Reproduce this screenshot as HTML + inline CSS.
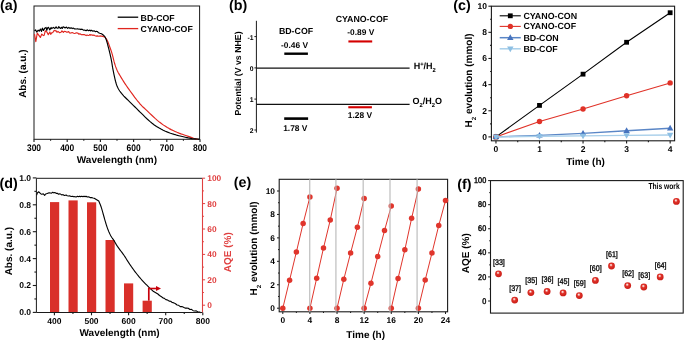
<!DOCTYPE html>
<html><head><meta charset="utf-8"><style>
html,body{margin:0;padding:0;background:#fff;}
svg{display:block;will-change:transform;}
text{font-family:"Liberation Sans",sans-serif;text-rendering:geometricPrecision;}
</style></head><body>
<svg width="685" height="340" viewBox="0 0 685 340" font-family="Liberation Sans, sans-serif">
<rect width="685" height="340" fill="#fff"/>
<text x="0.10" y="10.00" font-size="14.3" font-weight="bold" text-anchor="start" fill="#000" >(a)</text>
<rect x="34.0" y="6.0" width="165.6" height="133.3" fill="none" stroke="#1a1a1a" stroke-width="1"/>
<line x1="34.00" y1="139.30" x2="34.00" y2="142.00" stroke="#1a1a1a" stroke-width="1.1" />
<text transform="translate(34.00,150.9) scale(0.89,1)" font-size="9.5" font-weight="bold" text-anchor="middle">300</text>
<line x1="50.60" y1="139.30" x2="50.60" y2="140.80" stroke="#1a1a1a" stroke-width="1.1" />
<line x1="67.20" y1="139.30" x2="67.20" y2="142.00" stroke="#1a1a1a" stroke-width="1.1" />
<text transform="translate(67.20,150.9) scale(0.89,1)" font-size="9.5" font-weight="bold" text-anchor="middle">400</text>
<line x1="83.80" y1="139.30" x2="83.80" y2="140.80" stroke="#1a1a1a" stroke-width="1.1" />
<line x1="100.40" y1="139.30" x2="100.40" y2="142.00" stroke="#1a1a1a" stroke-width="1.1" />
<text transform="translate(100.40,150.9) scale(0.89,1)" font-size="9.5" font-weight="bold" text-anchor="middle">500</text>
<line x1="117.00" y1="139.30" x2="117.00" y2="140.80" stroke="#1a1a1a" stroke-width="1.1" />
<line x1="133.60" y1="139.30" x2="133.60" y2="142.00" stroke="#1a1a1a" stroke-width="1.1" />
<text transform="translate(133.60,150.9) scale(0.89,1)" font-size="9.5" font-weight="bold" text-anchor="middle">600</text>
<line x1="150.20" y1="139.30" x2="150.20" y2="140.80" stroke="#1a1a1a" stroke-width="1.1" />
<line x1="166.80" y1="139.30" x2="166.80" y2="142.00" stroke="#1a1a1a" stroke-width="1.1" />
<text transform="translate(166.80,150.9) scale(0.89,1)" font-size="9.5" font-weight="bold" text-anchor="middle">700</text>
<line x1="183.40" y1="139.30" x2="183.40" y2="140.80" stroke="#1a1a1a" stroke-width="1.1" />
<line x1="200.00" y1="139.30" x2="200.00" y2="142.00" stroke="#1a1a1a" stroke-width="1.1" />
<text transform="translate(200.00,150.9) scale(0.89,1)" font-size="9.5" font-weight="bold" text-anchor="middle">800</text>
<text x="116.90" y="163.10" font-size="10" font-weight="bold" text-anchor="middle" fill="#000" >Wavelength (nm)</text>
<text transform="translate(25.80,73.70) rotate(-90)" x="0" y="0" font-size="10" font-weight="bold" text-anchor="middle" fill="#000">Abs. (a.u.)</text>
<line x1="117.70" y1="17.20" x2="138.20" y2="17.20" stroke="#000" stroke-width="1.3" />
<line x1="117.70" y1="28.60" x2="138.20" y2="28.60" stroke="#e0261f" stroke-width="1.3" />
<text x="140.60" y="20.80" font-size="8.75" font-weight="bold" text-anchor="start" fill="#000" >BD-COF</text>
<text x="140.60" y="32.20" font-size="8.75" font-weight="bold" text-anchor="start" fill="#000" >CYANO-COF</text>
<polyline points="34.50,34.16 35.82,41.77 37.25,33.07 38.73,35.10 40.36,37.41 41.79,34.10 43.39,35.56 44.14,35.30 45.31,30.76 46.93,31.98 48.28,34.63 49.86,31.97 50.69,34.31 51.86,32.70 52.82,32.57 54.06,30.56 55.33,30.85 56.06,30.68 56.99,32.31 57.98,31.37 59.58,32.69 61.03,32.19 61.91,30.83 63.39,32.38 64.25,31.34 65.56,31.51 66.40,32.17 67.12,32.19 68.68,31.60 69.60,32.99 70.53,33.06 72.19,32.59 73.75,33.26 74.75,33.49 76.39,32.77 77.63,32.99 79.00,34.25 79.91,33.72 81.54,34.79 82.92,34.51 84.57,34.64 86.15,35.56 87.15,35.01 88.22,35.52 89.10,35.28 89.96,34.54 90.74,35.28 91.75,34.80 93.05,35.47 93.77,35.00 95.14,35.82 96.19,36.12 97.21,35.84 98.71,36.23 99.89,35.94 102.60,36.40 102.93,36.48 103.39,36.57 103.92,36.71 104.48,36.94 105.00,37.30 105.48,37.80 105.96,38.40 106.45,39.10 106.93,39.90 107.40,40.80 107.86,41.81 108.32,42.93 108.78,44.14 109.24,45.40 109.70,46.70 110.17,48.00 110.64,49.31 111.12,50.69 111.61,52.18 112.10,53.80 112.61,55.66 113.12,57.73 113.64,59.87 114.17,61.94 114.70,63.80 115.22,65.42 115.73,66.89 116.26,68.26 116.81,69.58 117.40,70.90 118.03,72.18 118.70,73.41 119.40,74.61 120.13,75.82 120.90,77.10 121.69,78.42 122.51,79.76 123.37,81.13 124.29,82.57 125.30,84.10 126.44,85.77 127.69,87.57 129.00,89.42 130.29,91.22 131.50,92.90 132.62,94.44 133.68,95.91 134.72,97.31 135.75,98.66 136.80,100.00 137.90,101.36 139.04,102.72 140.15,104.02 141.19,105.20 142.10,106.20 142.68,106.80 142.97,107.06 143.26,107.27 143.84,107.75 145.00,108.80 146.95,110.65 149.48,113.09 152.30,115.79 155.11,118.41 157.60,120.60 159.73,122.33 161.69,123.81 163.56,125.13 165.41,126.33 167.30,127.50 169.24,128.62 171.18,129.63 173.12,130.57 175.06,131.46 177.00,132.30 178.98,133.10 181.01,133.85 183.02,134.54 184.94,135.19 186.70,135.80 188.30,136.37 189.80,136.90 191.18,137.39 192.44,137.82 193.60,138.20 194.66,138.52 195.64,138.79 196.49,139.00 197.19,139.17 197.70,139.30" fill="none" stroke="#e0261f" stroke-width="1.15" stroke-linejoin="round" />
<polyline points="34.50,30.83 35.56,29.79 36.71,32.03 38.18,30.23 39.25,31.15 40.36,29.01 41.54,31.38 42.36,28.17 43.47,30.37 44.68,28.34 46.04,27.37 46.79,30.42 47.71,27.75 48.45,27.32 49.82,29.86 51.09,27.43 51.79,28.60 53.32,27.34 54.83,28.54 56.06,26.82 57.26,28.29 58.06,28.28 58.73,26.65 59.86,27.93 60.57,28.45 61.40,27.31 62.27,28.51 62.96,26.85 64.03,27.15 65.07,27.97 66.48,27.07 67.59,28.39 68.82,27.45 69.92,28.39 71.16,27.80 72.22,28.60 73.13,27.97 74.66,28.89 76.20,29.02 77.60,28.75 78.88,29.26 79.82,29.04 80.68,29.60 81.60,29.15 82.32,29.37 83.65,30.29 84.66,30.03 86.07,30.69 87.07,29.86 88.57,30.70 89.98,30.11 90.64,30.91 91.48,30.34 92.94,31.26 94.02,30.78 95.54,31.73 96.55,31.27 97.27,31.49 98.49,32.69 99.83,33.25 101.50,33.80 101.91,34.09 102.50,34.50 103.18,34.98 103.84,35.53 104.40,36.10 104.83,36.68 105.20,37.30 105.54,37.97 105.86,38.73 106.20,39.60 106.54,40.61 106.88,41.73 107.22,42.94 107.56,44.20 107.90,45.50 108.25,46.83 108.61,48.20 108.98,49.62 109.34,51.09 109.70,52.60 110.07,54.17 110.44,55.80 110.81,57.46 111.17,59.14 111.50,60.80 111.78,62.39 112.03,63.92 112.27,65.48 112.54,67.18 112.90,69.10 113.36,71.40 113.89,74.02 114.46,76.73 115.05,79.30 115.60,81.50 116.10,83.26 116.56,84.73 117.04,86.02 117.57,87.24 118.20,88.50 118.92,89.78 119.70,90.99 120.56,92.19 121.52,93.42 122.60,94.70 123.86,96.08 125.29,97.52 126.80,98.99 128.29,100.43 129.70,101.80 131.01,103.10 132.29,104.35 133.53,105.57 134.73,106.75 135.90,107.90 136.93,108.93 137.82,109.85 138.72,110.77 139.80,111.85 141.20,113.20 143.02,114.96 145.15,117.05 147.46,119.26 149.82,121.41 152.10,123.30 154.31,124.93 156.53,126.42 158.76,127.79 160.98,129.04 163.20,130.20 165.40,131.24 167.60,132.14 169.80,132.95 172.00,133.69 174.20,134.40 176.48,135.07 178.83,135.69 181.16,136.25 183.35,136.75 185.30,137.20 186.94,137.58 188.34,137.90 189.61,138.16 190.86,138.39 192.20,138.60 193.75,138.78 195.44,138.93 197.09,139.04 198.50,139.13 199.50,139.20" fill="none" stroke="#000" stroke-width="1.15" stroke-linejoin="round" />
<text x="229.00" y="10.00" font-size="14.3" font-weight="bold" text-anchor="start" fill="#000" >(b)</text>
<line x1="256.40" y1="20.80" x2="256.40" y2="132.60" stroke="#1a1a1a" stroke-width="1" />
<line x1="254.40" y1="36.60" x2="256.40" y2="36.60" stroke="#1a1a1a" stroke-width="1" />
<text x="253.60" y="39.90" font-size="6.8" font-weight="bold" text-anchor="end" fill="#000" >-1</text>
<line x1="254.40" y1="67.90" x2="256.40" y2="67.90" stroke="#1a1a1a" stroke-width="1" />
<text x="253.60" y="71.20" font-size="6.8" font-weight="bold" text-anchor="end" fill="#000" >0</text>
<line x1="254.40" y1="99.10" x2="256.40" y2="99.10" stroke="#1a1a1a" stroke-width="1" />
<text x="253.60" y="102.40" font-size="6.8" font-weight="bold" text-anchor="end" fill="#000" >1</text>
<line x1="254.40" y1="130.00" x2="256.40" y2="130.00" stroke="#1a1a1a" stroke-width="1" />
<text x="253.60" y="133.30" font-size="6.8" font-weight="bold" text-anchor="end" fill="#000" >2</text>
<line x1="256.40" y1="68.20" x2="409.60" y2="68.20" stroke="#111" stroke-width="1.3" />
<line x1="256.40" y1="104.40" x2="409.60" y2="104.40" stroke="#111" stroke-width="1.3" />
<text transform="translate(241.00,73.50) rotate(-90)" x="0" y="0" font-size="8.75" font-weight="bold" text-anchor="middle" fill="#000">Potential (V vs NHE)</text>
<rect x="284.30" y="52.50" width="23.60" height="2.40" fill="#000"/>
<rect x="284.20" y="117.30" width="23.90" height="2.60" fill="#000"/>
<rect x="348.40" y="40.40" width="23.80" height="2.10" fill="#d40000"/>
<rect x="348.30" y="106.20" width="23.60" height="2.10" fill="#d40000"/>
<text x="296.00" y="33.80" font-size="8.8" font-weight="bold" text-anchor="middle" fill="#000" >BD-COF</text>
<text x="294.50" y="47.50" font-size="8.4" font-weight="bold" text-anchor="middle" fill="#000" >-0.46 V</text>
<text x="361.90" y="21.50" font-size="8.8" font-weight="bold" text-anchor="middle" fill="#000" >CYANO-COF</text>
<text x="360.80" y="35.00" font-size="8.4" font-weight="bold" text-anchor="middle" fill="#000" >-0.89 V</text>
<text x="295.30" y="130.50" font-size="8.4" font-weight="bold" text-anchor="middle" fill="#000" >1.78 V</text>
<text x="359.90" y="118.40" font-size="8.4" font-weight="bold" text-anchor="middle" fill="#000" >1.28 V</text>
<text x="413.70" y="69.40" font-size="9.0" font-weight="bold" text-anchor="start" fill="#000" >H<tspan font-size="5.8" dy="-3.2">+</tspan><tspan dy="3.2">/H</tspan><tspan font-size="5.8" dy="2.2">2</tspan></text>
<text x="412.50" y="104.30" font-size="9.0" font-weight="bold" text-anchor="start" fill="#000" >O<tspan font-size="5.8" dy="2.2">2</tspan><tspan dy="-2.2">/H</tspan><tspan font-size="5.8" dy="2.2">2</tspan><tspan dy="-2.2">O</tspan></text>
<text x="453.20" y="10.10" font-size="14.3" font-weight="bold" text-anchor="start" fill="#000" >(c)</text>
<rect x="491.4" y="6.2" width="183.20000000000005" height="134.60000000000002" fill="none" stroke="#1a1a1a" stroke-width="1.1"/>
<line x1="488.40" y1="136.90" x2="491.40" y2="136.90" stroke="#1a1a1a" stroke-width="1.1" />
<text x="487.00" y="139.70" font-size="8.5" font-weight="bold" text-anchor="end" fill="#000" >0</text>
<line x1="490.10" y1="123.83" x2="491.40" y2="123.83" stroke="#1a1a1a" stroke-width="1.1" />
<line x1="488.40" y1="110.76" x2="491.40" y2="110.76" stroke="#1a1a1a" stroke-width="1.1" />
<text x="487.00" y="113.56" font-size="8.5" font-weight="bold" text-anchor="end" fill="#000" >2</text>
<line x1="490.10" y1="97.69" x2="491.40" y2="97.69" stroke="#1a1a1a" stroke-width="1.1" />
<line x1="488.40" y1="84.62" x2="491.40" y2="84.62" stroke="#1a1a1a" stroke-width="1.1" />
<text x="487.00" y="87.42" font-size="8.5" font-weight="bold" text-anchor="end" fill="#000" >4</text>
<line x1="490.10" y1="71.55" x2="491.40" y2="71.55" stroke="#1a1a1a" stroke-width="1.1" />
<line x1="488.40" y1="58.48" x2="491.40" y2="58.48" stroke="#1a1a1a" stroke-width="1.1" />
<text x="487.00" y="61.28" font-size="8.5" font-weight="bold" text-anchor="end" fill="#000" >6</text>
<line x1="490.10" y1="45.41" x2="491.40" y2="45.41" stroke="#1a1a1a" stroke-width="1.1" />
<line x1="488.40" y1="32.34" x2="491.40" y2="32.34" stroke="#1a1a1a" stroke-width="1.1" />
<text x="487.00" y="35.14" font-size="8.5" font-weight="bold" text-anchor="end" fill="#000" >8</text>
<line x1="490.10" y1="19.27" x2="491.40" y2="19.27" stroke="#1a1a1a" stroke-width="1.1" />
<line x1="488.40" y1="6.20" x2="491.40" y2="6.20" stroke="#1a1a1a" stroke-width="1.1" />
<text x="487.00" y="9.00" font-size="8.5" font-weight="bold" text-anchor="end" fill="#000" >10</text>
<line x1="495.95" y1="140.80" x2="495.95" y2="143.60" stroke="#1a1a1a" stroke-width="1.1" />
<text x="495.95" y="151.70" font-size="8.5" font-weight="bold" text-anchor="middle" fill="#000" >0</text>
<line x1="517.73" y1="140.80" x2="517.73" y2="142.20" stroke="#1a1a1a" stroke-width="1.1" />
<line x1="539.50" y1="140.80" x2="539.50" y2="143.60" stroke="#1a1a1a" stroke-width="1.1" />
<text x="539.50" y="151.70" font-size="8.5" font-weight="bold" text-anchor="middle" fill="#000" >1</text>
<line x1="561.27" y1="140.80" x2="561.27" y2="142.20" stroke="#1a1a1a" stroke-width="1.1" />
<line x1="583.05" y1="140.80" x2="583.05" y2="143.60" stroke="#1a1a1a" stroke-width="1.1" />
<text x="583.05" y="151.70" font-size="8.5" font-weight="bold" text-anchor="middle" fill="#000" >2</text>
<line x1="604.83" y1="140.80" x2="604.83" y2="142.20" stroke="#1a1a1a" stroke-width="1.1" />
<line x1="626.60" y1="140.80" x2="626.60" y2="143.60" stroke="#1a1a1a" stroke-width="1.1" />
<text x="626.60" y="151.70" font-size="8.5" font-weight="bold" text-anchor="middle" fill="#000" >3</text>
<line x1="648.38" y1="140.80" x2="648.38" y2="142.20" stroke="#1a1a1a" stroke-width="1.1" />
<line x1="670.15" y1="140.80" x2="670.15" y2="143.60" stroke="#1a1a1a" stroke-width="1.1" />
<text x="670.15" y="151.70" font-size="8.5" font-weight="bold" text-anchor="middle" fill="#000" >4</text>
<text x="585.50" y="164.80" font-size="10" font-weight="bold" text-anchor="middle" fill="#000" >Time (h)</text>
<text transform="translate(472.0,80.4) rotate(-90)" font-size="10" font-weight="bold" text-anchor="middle">H<tspan font-size="6.1" dy="3.5">2</tspan><tspan dy="-3.5"> evolution (mmol)</tspan></text>
<polyline points="495.95,136.90 539.50,105.40 583.05,74.16 626.60,42.27 670.15,12.73" fill="none" stroke="#000" stroke-width="1.1" stroke-linejoin="round" />
<rect x="493.55" y="134.50" width="4.80" height="4.80" fill="#000"/>
<rect x="537.10" y="103.00" width="4.80" height="4.80" fill="#000"/>
<rect x="580.65" y="71.76" width="4.80" height="4.80" fill="#000"/>
<rect x="624.20" y="39.87" width="4.80" height="4.80" fill="#000"/>
<rect x="667.75" y="10.33" width="4.80" height="4.80" fill="#000"/>
<polyline points="495.95,136.90 539.50,121.48 583.05,108.93 626.60,95.73 670.15,82.92" fill="none" stroke="#e03228" stroke-width="1.1" stroke-linejoin="round" />
<circle cx="495.95" cy="136.90" r="2.70" fill="#e03228"/>
<circle cx="539.50" cy="121.48" r="2.70" fill="#e03228"/>
<circle cx="583.05" cy="108.93" r="2.70" fill="#e03228"/>
<circle cx="626.60" cy="95.73" r="2.70" fill="#e03228"/>
<circle cx="670.15" cy="82.92" r="2.70" fill="#e03228"/>
<polyline points="495.95,136.90 539.50,135.33 583.05,133.37 626.60,130.76 670.15,128.27" fill="none" stroke="#5a86c6" stroke-width="1.4" stroke-linejoin="round" />
<polygon points="492.75,139.10 499.15,139.10 495.95,133.50" fill="#4673be"/>
<polygon points="536.30,137.53 542.70,137.53 539.50,131.93" fill="#4673be"/>
<polygon points="579.85,135.57 586.25,135.57 583.05,129.97" fill="#4673be"/>
<polygon points="623.40,132.96 629.80,132.96 626.60,127.36" fill="#4673be"/>
<polygon points="666.95,130.47 673.35,130.47 670.15,124.87" fill="#4673be"/>
<polyline points="495.95,136.90 539.50,136.25 583.05,135.85 626.60,135.33 670.15,135.07" fill="none" stroke="#a8cfea" stroke-width="1.4" stroke-linejoin="round" />
<polygon points="492.75,134.70 499.15,134.70 495.95,140.30" fill="#8dbfe3"/>
<polygon points="536.30,134.05 542.70,134.05 539.50,139.65" fill="#8dbfe3"/>
<polygon points="579.85,133.65 586.25,133.65 583.05,139.25" fill="#8dbfe3"/>
<polygon points="623.40,133.13 629.80,133.13 626.60,138.73" fill="#8dbfe3"/>
<polygon points="666.95,132.87 673.35,132.87 670.15,138.47" fill="#8dbfe3"/>
<line x1="499.70" y1="15.80" x2="520.80" y2="15.80" stroke="#000" stroke-width="1.1" />
<rect x="507.90" y="13.40" width="4.80" height="4.80" fill="#000"/>
<text x="523.40" y="18.80" font-size="8.85" font-weight="bold" text-anchor="start" fill="#000" >CYANO-CON</text>
<line x1="499.70" y1="26.40" x2="520.80" y2="26.40" stroke="#e03228" stroke-width="1.1" />
<circle cx="510.30" cy="26.40" r="2.70" fill="#e03228"/>
<text x="523.40" y="29.40" font-size="8.85" font-weight="bold" text-anchor="start" fill="#000" >CYANO-COF</text>
<line x1="499.70" y1="37.70" x2="520.80" y2="37.70" stroke="#5a86c6" stroke-width="1.5" />
<polygon points="507.10,39.90 513.50,39.90 510.30,34.30" fill="#4673be"/>
<text x="523.40" y="40.70" font-size="8.85" font-weight="bold" text-anchor="start" fill="#000" >BD-CON</text>
<line x1="499.70" y1="48.80" x2="520.80" y2="48.80" stroke="#a8cfea" stroke-width="1.5" />
<polygon points="507.10,46.60 513.50,46.60 510.30,52.20" fill="#8dbfe3"/>
<text x="523.40" y="51.80" font-size="8.85" font-weight="bold" text-anchor="start" fill="#000" >BD-COF</text>
<text x="-0.60" y="187.50" font-size="14.3" font-weight="bold" text-anchor="start" fill="#000" >(d)</text>
<rect x="50.00" y="202.10" width="9.20" height="110.40" fill="#d9302a"/>
<rect x="68.50" y="200.40" width="9.20" height="112.10" fill="#d9302a"/>
<rect x="87.00" y="202.30" width="9.20" height="110.20" fill="#d9302a"/>
<rect x="105.50" y="240.00" width="9.20" height="72.50" fill="#d9302a"/>
<rect x="124.00" y="283.40" width="9.20" height="29.10" fill="#d9302a"/>
<rect x="142.60" y="300.70" width="9.20" height="11.80" fill="#d9302a"/>
<polyline points="36.50,195.19 37.37,192.94 38.51,191.81 39.49,192.52 40.69,193.71 41.90,194.36 42.61,194.07 43.29,193.87 44.68,195.44 45.57,194.05 46.44,193.81 47.97,193.17 49.05,192.74 50.44,192.93 51.52,193.19 52.74,192.21 53.54,192.83 54.76,192.59 56.18,193.35 57.30,193.31 58.61,194.27 59.86,193.71 60.58,194.11 61.91,194.96 63.09,194.58 64.01,195.37 64.70,195.45 66.12,195.07 67.20,195.77 68.49,196.04 69.92,195.90 71.21,196.50 72.68,196.19 73.69,196.77 75.05,196.66 76.11,197.01 77.59,196.37 79.02,196.68 79.77,196.13 80.55,196.72 81.40,196.30 82.91,196.63 83.95,196.17 85.16,196.61 86.09,196.34 87.19,197.00 88.19,196.81 89.16,197.05 90.34,197.65 91.51,197.54 92.97,198.04 94.23,198.27 98.75,201.00 99.09,201.82 99.57,202.95 100.13,204.30 100.71,205.79 101.25,207.30 101.75,208.89 102.25,210.61 102.75,212.41 103.25,214.23 103.75,216.00 104.25,217.76 104.76,219.56 105.27,221.33 105.77,223.03 106.25,224.60 106.71,226.03 107.16,227.34 107.60,228.58 108.04,229.75 108.50,230.90 108.96,232.01 109.43,233.06 109.90,234.08 110.39,235.05 110.90,236.00 111.45,236.90 112.02,237.74 112.61,238.56 113.21,239.40 113.80,240.30 114.39,241.27 114.97,242.29 115.56,243.34 116.17,244.38 116.80,245.40 117.47,246.40 118.16,247.38 118.88,248.36 119.59,249.34 120.30,250.30 121.01,251.25 121.72,252.19 122.44,253.13 123.13,254.06 123.80,255.00 124.43,255.94 125.04,256.89 125.63,257.83 126.21,258.77 126.80,259.70 127.36,260.58 127.88,261.41 128.42,262.26 129.01,263.17 129.70,264.20 130.52,265.40 131.45,266.72 132.43,268.10 133.43,269.48 134.40,270.80 135.34,272.05 136.28,273.28 137.22,274.48 138.16,275.65 139.10,276.80 140.04,277.91 140.98,279.00 141.92,280.06 142.86,281.09 143.80,282.10 144.74,283.08 145.68,284.03 146.62,284.96 147.56,285.88 148.50,286.80 149.52,287.78 150.61,288.83 151.66,289.83 152.56,290.69 153.20,291.30 157.90,293.98 159.50,295.51 161.10,296.41 162.70,297.77 164.30,298.37 165.90,299.62 167.50,300.02 169.10,301.11 170.70,301.23 172.30,302.56 173.90,302.86 175.50,303.73 177.10,305.03 178.70,305.32 180.30,306.61 181.90,306.57 183.50,307.20 185.10,308.11 186.70,307.96 188.30,308.21 189.90,309.51 191.50,309.38 193.10,310.70 194.70,310.94 196.30,310.87 197.90,311.93 199.50,311.94 201.10,312.81" fill="none" stroke="#000" stroke-width="1.1" stroke-linejoin="round" />
<line x1="148.80" y1="300.70" x2="148.80" y2="287.70" stroke="#c8000a" stroke-width="1.7" />
<line x1="148.00" y1="288.50" x2="157.00" y2="288.50" stroke="#c8000a" stroke-width="1.6" />
<polygon points="156.0,286.1 161.0,288.5 156.0,290.9" fill="#c8000a"/>
<line x1="36.40" y1="178.30" x2="202.50" y2="178.30" stroke="#1a1a1a" stroke-width="1" />
<line x1="36.40" y1="178.30" x2="36.40" y2="312.50" stroke="#1a1a1a" stroke-width="1" />
<line x1="36.40" y1="312.50" x2="202.50" y2="312.50" stroke="#1a1a1a" stroke-width="1" />
<line x1="202.50" y1="178.30" x2="202.50" y2="312.50" stroke="#e04040" stroke-width="1.1" />
<line x1="32.80" y1="312.40" x2="36.40" y2="312.40" stroke="#1a1a1a" stroke-width="1.1" />
<text x="31.00" y="315.30" font-size="8.5" font-weight="bold" text-anchor="end" fill="#000" >0.0</text>
<line x1="34.40" y1="298.95" x2="36.40" y2="298.95" stroke="#1a1a1a" stroke-width="1.1" />
<line x1="32.80" y1="285.50" x2="36.40" y2="285.50" stroke="#1a1a1a" stroke-width="1.1" />
<text x="31.00" y="288.40" font-size="8.5" font-weight="bold" text-anchor="end" fill="#000" >0.2</text>
<line x1="34.40" y1="272.05" x2="36.40" y2="272.05" stroke="#1a1a1a" stroke-width="1.1" />
<line x1="32.80" y1="258.60" x2="36.40" y2="258.60" stroke="#1a1a1a" stroke-width="1.1" />
<text x="31.00" y="261.50" font-size="8.5" font-weight="bold" text-anchor="end" fill="#000" >0.4</text>
<line x1="34.40" y1="245.15" x2="36.40" y2="245.15" stroke="#1a1a1a" stroke-width="1.1" />
<line x1="32.80" y1="231.70" x2="36.40" y2="231.70" stroke="#1a1a1a" stroke-width="1.1" />
<text x="31.00" y="234.60" font-size="8.5" font-weight="bold" text-anchor="end" fill="#000" >0.6</text>
<line x1="34.40" y1="218.25" x2="36.40" y2="218.25" stroke="#1a1a1a" stroke-width="1.1" />
<line x1="32.80" y1="204.80" x2="36.40" y2="204.80" stroke="#1a1a1a" stroke-width="1.1" />
<text x="31.00" y="207.70" font-size="8.5" font-weight="bold" text-anchor="end" fill="#000" >0.8</text>
<line x1="34.40" y1="191.35" x2="36.40" y2="191.35" stroke="#1a1a1a" stroke-width="1.1" />
<line x1="32.80" y1="177.90" x2="36.40" y2="177.90" stroke="#1a1a1a" stroke-width="1.1" />
<text x="31.00" y="180.80" font-size="8.5" font-weight="bold" text-anchor="end" fill="#000" >1.0</text>
<line x1="54.40" y1="312.50" x2="54.40" y2="315.30" stroke="#1a1a1a" stroke-width="1.1" />
<text x="54.40" y="323.80" font-size="8.5" font-weight="bold" text-anchor="middle" fill="#000" >400</text>
<line x1="72.95" y1="312.50" x2="72.95" y2="314.00" stroke="#1a1a1a" stroke-width="1.1" />
<line x1="91.50" y1="312.50" x2="91.50" y2="315.30" stroke="#1a1a1a" stroke-width="1.1" />
<text x="91.50" y="323.80" font-size="8.5" font-weight="bold" text-anchor="middle" fill="#000" >500</text>
<line x1="110.05" y1="312.50" x2="110.05" y2="314.00" stroke="#1a1a1a" stroke-width="1.1" />
<line x1="128.60" y1="312.50" x2="128.60" y2="315.30" stroke="#1a1a1a" stroke-width="1.1" />
<text x="128.60" y="323.80" font-size="8.5" font-weight="bold" text-anchor="middle" fill="#000" >600</text>
<line x1="147.15" y1="312.50" x2="147.15" y2="314.00" stroke="#1a1a1a" stroke-width="1.1" />
<line x1="165.70" y1="312.50" x2="165.70" y2="315.30" stroke="#1a1a1a" stroke-width="1.1" />
<text x="165.70" y="323.80" font-size="8.5" font-weight="bold" text-anchor="middle" fill="#000" >700</text>
<line x1="184.25" y1="312.50" x2="184.25" y2="314.00" stroke="#1a1a1a" stroke-width="1.1" />
<line x1="202.80" y1="312.50" x2="202.80" y2="315.30" stroke="#1a1a1a" stroke-width="1.1" />
<text x="202.80" y="323.80" font-size="8.5" font-weight="bold" text-anchor="middle" fill="#000" >800</text>
<text x="119.60" y="335.50" font-size="10" font-weight="bold" text-anchor="middle" fill="#000" >Wavelength (nm)</text>
<text transform="translate(12.00,251.20) rotate(-90)" x="0" y="0" font-size="10" font-weight="bold" text-anchor="middle" fill="#000">Abs. (a.u.)</text>
<line x1="202.50" y1="305.20" x2="205.10" y2="305.20" stroke="#e04040" stroke-width="1" />
<text x="207.30" y="308.20" font-size="8.4" font-weight="bold" text-anchor="start" fill="#e04040" >0</text>
<line x1="202.50" y1="292.50" x2="203.90" y2="292.50" stroke="#e04040" stroke-width="1" />
<line x1="202.50" y1="279.80" x2="205.10" y2="279.80" stroke="#e04040" stroke-width="1" />
<text x="207.30" y="282.80" font-size="8.4" font-weight="bold" text-anchor="start" fill="#e04040" >20</text>
<line x1="202.50" y1="267.10" x2="203.90" y2="267.10" stroke="#e04040" stroke-width="1" />
<line x1="202.50" y1="254.40" x2="205.10" y2="254.40" stroke="#e04040" stroke-width="1" />
<text x="207.30" y="257.40" font-size="8.4" font-weight="bold" text-anchor="start" fill="#e04040" >40</text>
<line x1="202.50" y1="241.70" x2="203.90" y2="241.70" stroke="#e04040" stroke-width="1" />
<line x1="202.50" y1="229.00" x2="205.10" y2="229.00" stroke="#e04040" stroke-width="1" />
<text x="207.30" y="232.00" font-size="8.4" font-weight="bold" text-anchor="start" fill="#e04040" >60</text>
<line x1="202.50" y1="216.30" x2="203.90" y2="216.30" stroke="#e04040" stroke-width="1" />
<line x1="202.50" y1="203.60" x2="205.10" y2="203.60" stroke="#e04040" stroke-width="1" />
<text x="207.30" y="206.60" font-size="8.4" font-weight="bold" text-anchor="start" fill="#e04040" >80</text>
<line x1="202.50" y1="190.90" x2="203.90" y2="190.90" stroke="#e04040" stroke-width="1" />
<line x1="202.50" y1="178.20" x2="205.10" y2="178.20" stroke="#e04040" stroke-width="1" />
<text x="207.30" y="181.20" font-size="8.4" font-weight="bold" text-anchor="start" fill="#e04040" >100</text>
<text transform="translate(231.30,252.20) rotate(-90)" x="0" y="0" font-size="10" font-weight="bold" text-anchor="middle" fill="#e04040">AQE (%)</text>
<text x="233.80" y="187.40" font-size="14.3" font-weight="bold" text-anchor="start" fill="#000" >(e)</text>
<rect x="279.2" y="179.3" width="168.40000000000003" height="132.5" fill="none" stroke="#1a1a1a" stroke-width="1.1"/>
<line x1="277.00" y1="308.20" x2="279.20" y2="308.20" stroke="#1a1a1a" stroke-width="1" />
<text x="275.00" y="311.20" font-size="8.4" font-weight="bold" text-anchor="end" fill="#000" >0</text>
<line x1="278.00" y1="296.48" x2="279.20" y2="296.48" stroke="#1a1a1a" stroke-width="1" />
<line x1="277.00" y1="284.76" x2="279.20" y2="284.76" stroke="#1a1a1a" stroke-width="1" />
<text x="275.00" y="287.76" font-size="8.4" font-weight="bold" text-anchor="end" fill="#000" >2</text>
<line x1="278.00" y1="273.04" x2="279.20" y2="273.04" stroke="#1a1a1a" stroke-width="1" />
<line x1="277.00" y1="261.32" x2="279.20" y2="261.32" stroke="#1a1a1a" stroke-width="1" />
<text x="275.00" y="264.32" font-size="8.4" font-weight="bold" text-anchor="end" fill="#000" >4</text>
<line x1="278.00" y1="249.60" x2="279.20" y2="249.60" stroke="#1a1a1a" stroke-width="1" />
<line x1="277.00" y1="237.88" x2="279.20" y2="237.88" stroke="#1a1a1a" stroke-width="1" />
<text x="275.00" y="240.88" font-size="8.4" font-weight="bold" text-anchor="end" fill="#000" >6</text>
<line x1="278.00" y1="226.16" x2="279.20" y2="226.16" stroke="#1a1a1a" stroke-width="1" />
<line x1="277.00" y1="214.44" x2="279.20" y2="214.44" stroke="#1a1a1a" stroke-width="1" />
<text x="275.00" y="217.44" font-size="8.4" font-weight="bold" text-anchor="end" fill="#000" >8</text>
<line x1="278.00" y1="202.72" x2="279.20" y2="202.72" stroke="#1a1a1a" stroke-width="1" />
<line x1="277.00" y1="191.00" x2="279.20" y2="191.00" stroke="#1a1a1a" stroke-width="1" />
<text x="275.00" y="194.00" font-size="8.4" font-weight="bold" text-anchor="end" fill="#000" >10</text>
<line x1="282.80" y1="311.80" x2="282.80" y2="314.00" stroke="#1a1a1a" stroke-width="1" />
<text x="282.80" y="323.40" font-size="8.4" font-weight="bold" text-anchor="middle" fill="#000" >0</text>
<line x1="296.36" y1="311.80" x2="296.36" y2="313.00" stroke="#1a1a1a" stroke-width="1" />
<line x1="309.92" y1="311.80" x2="309.92" y2="314.00" stroke="#1a1a1a" stroke-width="1" />
<text x="309.92" y="323.40" font-size="8.4" font-weight="bold" text-anchor="middle" fill="#000" >4</text>
<line x1="323.48" y1="311.80" x2="323.48" y2="313.00" stroke="#1a1a1a" stroke-width="1" />
<line x1="337.04" y1="311.80" x2="337.04" y2="314.00" stroke="#1a1a1a" stroke-width="1" />
<text x="337.04" y="323.40" font-size="8.4" font-weight="bold" text-anchor="middle" fill="#000" >8</text>
<line x1="350.60" y1="311.80" x2="350.60" y2="313.00" stroke="#1a1a1a" stroke-width="1" />
<line x1="364.16" y1="311.80" x2="364.16" y2="314.00" stroke="#1a1a1a" stroke-width="1" />
<text x="364.16" y="323.40" font-size="8.4" font-weight="bold" text-anchor="middle" fill="#000" >12</text>
<line x1="377.72" y1="311.80" x2="377.72" y2="313.00" stroke="#1a1a1a" stroke-width="1" />
<line x1="391.28" y1="311.80" x2="391.28" y2="314.00" stroke="#1a1a1a" stroke-width="1" />
<text x="391.28" y="323.40" font-size="8.4" font-weight="bold" text-anchor="middle" fill="#000" >16</text>
<line x1="404.84" y1="311.80" x2="404.84" y2="313.00" stroke="#1a1a1a" stroke-width="1" />
<line x1="418.40" y1="311.80" x2="418.40" y2="314.00" stroke="#1a1a1a" stroke-width="1" />
<text x="418.40" y="323.40" font-size="8.4" font-weight="bold" text-anchor="middle" fill="#000" >20</text>
<line x1="431.96" y1="311.80" x2="431.96" y2="313.00" stroke="#1a1a1a" stroke-width="1" />
<line x1="445.52" y1="311.80" x2="445.52" y2="314.00" stroke="#1a1a1a" stroke-width="1" />
<text x="445.52" y="323.40" font-size="8.4" font-weight="bold" text-anchor="middle" fill="#000" >24</text>
<text x="365.70" y="337.70" font-size="10" font-weight="bold" text-anchor="middle" fill="#000" >Time (h)</text>
<text transform="translate(257.0,248.4) rotate(-90)" font-size="10" font-weight="bold" text-anchor="middle">H<tspan font-size="6.1" dy="3.6">2</tspan><tspan dy="-3.6"> evolution (mmol)</tspan></text>
<polyline points="282.80,308.20 289.58,280.19 296.36,252.06 303.14,223.46 309.92,196.98" fill="none" stroke="#e0352c" stroke-width="1.0" stroke-linejoin="round" />
<polyline points="309.92,308.20 316.70,278.20 323.48,248.08 330.26,220.07 337.04,188.19" fill="none" stroke="#e0352c" stroke-width="1.0" stroke-linejoin="round" />
<polyline points="337.04,308.20 343.82,279.25 350.60,253.00 357.38,227.21 364.16,198.50" fill="none" stroke="#e0352c" stroke-width="1.0" stroke-linejoin="round" />
<polyline points="364.16,308.20 370.94,283.24 377.72,256.51 384.50,230.61 391.28,206.00" fill="none" stroke="#e0352c" stroke-width="1.0" stroke-linejoin="round" />
<polyline points="391.28,308.20 398.06,278.43 404.84,249.83 411.62,218.31 418.40,188.89" fill="none" stroke="#e0352c" stroke-width="1.0" stroke-linejoin="round" />
<polyline points="418.40,308.20 425.18,280.07 431.96,253.00 438.74,225.57 445.52,200.49" fill="none" stroke="#e0352c" stroke-width="1.0" stroke-linejoin="round" />
<circle cx="282.80" cy="308.20" r="2.75" fill="#e0352c"/>
<circle cx="289.58" cy="280.19" r="2.75" fill="#e0352c"/>
<circle cx="296.36" cy="252.06" r="2.75" fill="#e0352c"/>
<circle cx="303.14" cy="223.46" r="2.75" fill="#e0352c"/>
<circle cx="309.92" cy="196.98" r="2.75" fill="#e0352c"/>
<circle cx="309.92" cy="308.20" r="2.75" fill="#e0352c"/>
<circle cx="316.70" cy="278.20" r="2.75" fill="#e0352c"/>
<circle cx="323.48" cy="248.08" r="2.75" fill="#e0352c"/>
<circle cx="330.26" cy="220.07" r="2.75" fill="#e0352c"/>
<circle cx="337.04" cy="188.19" r="2.75" fill="#e0352c"/>
<circle cx="337.04" cy="308.20" r="2.75" fill="#e0352c"/>
<circle cx="343.82" cy="279.25" r="2.75" fill="#e0352c"/>
<circle cx="350.60" cy="253.00" r="2.75" fill="#e0352c"/>
<circle cx="357.38" cy="227.21" r="2.75" fill="#e0352c"/>
<circle cx="364.16" cy="198.50" r="2.75" fill="#e0352c"/>
<circle cx="364.16" cy="308.20" r="2.75" fill="#e0352c"/>
<circle cx="370.94" cy="283.24" r="2.75" fill="#e0352c"/>
<circle cx="377.72" cy="256.51" r="2.75" fill="#e0352c"/>
<circle cx="384.50" cy="230.61" r="2.75" fill="#e0352c"/>
<circle cx="391.28" cy="206.00" r="2.75" fill="#e0352c"/>
<circle cx="391.28" cy="308.20" r="2.75" fill="#e0352c"/>
<circle cx="398.06" cy="278.43" r="2.75" fill="#e0352c"/>
<circle cx="404.84" cy="249.83" r="2.75" fill="#e0352c"/>
<circle cx="411.62" cy="218.31" r="2.75" fill="#e0352c"/>
<circle cx="418.40" cy="188.89" r="2.75" fill="#e0352c"/>
<circle cx="418.40" cy="308.20" r="2.75" fill="#e0352c"/>
<circle cx="425.18" cy="280.07" r="2.75" fill="#e0352c"/>
<circle cx="431.96" cy="253.00" r="2.75" fill="#e0352c"/>
<circle cx="438.74" cy="225.57" r="2.75" fill="#e0352c"/>
<circle cx="445.52" cy="200.49" r="2.75" fill="#e0352c"/>
<line x1="309.70" y1="179.30" x2="309.70" y2="311.80" stroke="#bdbdbd" stroke-width="1.4" opacity="0.85"/>
<line x1="335.90" y1="179.30" x2="335.90" y2="311.80" stroke="#bdbdbd" stroke-width="1.4" opacity="0.85"/>
<line x1="363.20" y1="179.30" x2="363.20" y2="311.80" stroke="#bdbdbd" stroke-width="1.4" opacity="0.85"/>
<line x1="390.00" y1="179.30" x2="390.00" y2="311.80" stroke="#bdbdbd" stroke-width="1.4" opacity="0.85"/>
<line x1="417.10" y1="179.30" x2="417.10" y2="311.80" stroke="#bdbdbd" stroke-width="1.4" opacity="0.85"/>
<text x="457.20" y="188.60" font-size="14.3" font-weight="bold" text-anchor="start" fill="#000" >(f)</text>
<rect x="490.5" y="180.6" width="192.70000000000005" height="132.50000000000003" fill="none" stroke="#1a1a1a" stroke-width="1.1"/>
<line x1="488.10" y1="301.00" x2="490.50" y2="301.00" stroke="#1a1a1a" stroke-width="1" />
<text transform="translate(486.2,303.60) scale(0.89,1)" font-size="8.2" font-weight="normal" stroke="#000" stroke-width="0.4" text-anchor="end">0</text>
<line x1="489.20" y1="288.96" x2="490.50" y2="288.96" stroke="#1a1a1a" stroke-width="1" />
<line x1="488.10" y1="276.92" x2="490.50" y2="276.92" stroke="#1a1a1a" stroke-width="1" />
<text transform="translate(486.2,279.52) scale(0.89,1)" font-size="8.2" font-weight="normal" stroke="#000" stroke-width="0.4" text-anchor="end">20</text>
<line x1="489.20" y1="264.88" x2="490.50" y2="264.88" stroke="#1a1a1a" stroke-width="1" />
<line x1="488.10" y1="252.84" x2="490.50" y2="252.84" stroke="#1a1a1a" stroke-width="1" />
<text transform="translate(486.2,255.44) scale(0.89,1)" font-size="8.2" font-weight="normal" stroke="#000" stroke-width="0.4" text-anchor="end">40</text>
<line x1="489.20" y1="240.80" x2="490.50" y2="240.80" stroke="#1a1a1a" stroke-width="1" />
<line x1="488.10" y1="228.76" x2="490.50" y2="228.76" stroke="#1a1a1a" stroke-width="1" />
<text transform="translate(486.2,231.36) scale(0.89,1)" font-size="8.2" font-weight="normal" stroke="#000" stroke-width="0.4" text-anchor="end">60</text>
<line x1="489.20" y1="216.72" x2="490.50" y2="216.72" stroke="#1a1a1a" stroke-width="1" />
<line x1="488.10" y1="204.68" x2="490.50" y2="204.68" stroke="#1a1a1a" stroke-width="1" />
<text transform="translate(486.2,207.28) scale(0.89,1)" font-size="8.2" font-weight="normal" stroke="#000" stroke-width="0.4" text-anchor="end">80</text>
<line x1="489.20" y1="192.64" x2="490.50" y2="192.64" stroke="#1a1a1a" stroke-width="1" />
<line x1="488.10" y1="180.60" x2="490.50" y2="180.60" stroke="#1a1a1a" stroke-width="1" />
<text transform="translate(486.2,183.20) scale(0.89,1)" font-size="8.2" font-weight="normal" stroke="#000" stroke-width="0.4" text-anchor="end">100</text>
<text transform="translate(469.40,253.20) rotate(-90)" x="0" y="0" font-size="10" font-weight="bold" text-anchor="middle" fill="#000">AQE (%)</text>
<defs><radialGradient id="sph" cx="0.45" cy="0.42" r="0.6" fx="0.42" fy="0.34"><stop offset="0" stop-color="#ffffff"/><stop offset="0.14" stop-color="#f7c4c0"/><stop offset="0.4" stop-color="#e0332a"/><stop offset="1" stop-color="#c81b15"/></radialGradient></defs>
<circle cx="498.50" cy="273.80" r="3.4" fill="url(#sph)"/>
<text transform="translate(498.90,264.50) scale(0.88,1)" font-size="8.1" font-weight="normal" stroke="#000" stroke-width="0.32" text-anchor="middle">[33]</text>
<circle cx="514.70" cy="300.10" r="3.4" fill="url(#sph)"/>
<text transform="translate(515.10,290.80) scale(0.88,1)" font-size="8.1" font-weight="normal" stroke="#000" stroke-width="0.32" text-anchor="middle">[37]</text>
<circle cx="530.90" cy="292.60" r="3.4" fill="url(#sph)"/>
<text transform="translate(531.30,283.30) scale(0.88,1)" font-size="8.1" font-weight="normal" stroke="#000" stroke-width="0.32" text-anchor="middle">[35]</text>
<circle cx="547.10" cy="291.50" r="3.4" fill="url(#sph)"/>
<text transform="translate(547.50,282.20) scale(0.88,1)" font-size="8.1" font-weight="normal" stroke="#000" stroke-width="0.32" text-anchor="middle">[36]</text>
<circle cx="563.10" cy="292.90" r="3.4" fill="url(#sph)"/>
<text transform="translate(563.50,283.60) scale(0.88,1)" font-size="8.1" font-weight="normal" stroke="#000" stroke-width="0.32" text-anchor="middle">[45]</text>
<circle cx="579.30" cy="295.60" r="3.4" fill="url(#sph)"/>
<text transform="translate(579.70,286.30) scale(0.88,1)" font-size="8.1" font-weight="normal" stroke="#000" stroke-width="0.32" text-anchor="middle">[59]</text>
<circle cx="595.40" cy="280.40" r="3.4" fill="url(#sph)"/>
<text transform="translate(595.80,271.10) scale(0.88,1)" font-size="8.1" font-weight="normal" stroke="#000" stroke-width="0.32" text-anchor="middle">[60]</text>
<circle cx="611.50" cy="266.00" r="3.4" fill="url(#sph)"/>
<text transform="translate(611.90,256.70) scale(0.88,1)" font-size="8.1" font-weight="normal" stroke="#000" stroke-width="0.32" text-anchor="middle">[61]</text>
<circle cx="627.70" cy="285.60" r="3.4" fill="url(#sph)"/>
<text transform="translate(628.10,276.30) scale(0.88,1)" font-size="8.1" font-weight="normal" stroke="#000" stroke-width="0.32" text-anchor="middle">[62]</text>
<circle cx="643.80" cy="287.00" r="3.4" fill="url(#sph)"/>
<text transform="translate(644.20,277.70) scale(0.88,1)" font-size="8.1" font-weight="normal" stroke="#000" stroke-width="0.32" text-anchor="middle">[63]</text>
<circle cx="660.20" cy="276.90" r="3.4" fill="url(#sph)"/>
<text transform="translate(660.60,267.60) scale(0.88,1)" font-size="8.1" font-weight="normal" stroke="#000" stroke-width="0.32" text-anchor="middle">[64]</text>
<circle cx="676.4" cy="201.4" r="3.4" fill="url(#sph)"/>
<text transform="translate(679.7,189.3) scale(0.78,1)" font-size="8.6" font-weight="bold" text-anchor="end">This work</text>
</svg>
</body></html>
